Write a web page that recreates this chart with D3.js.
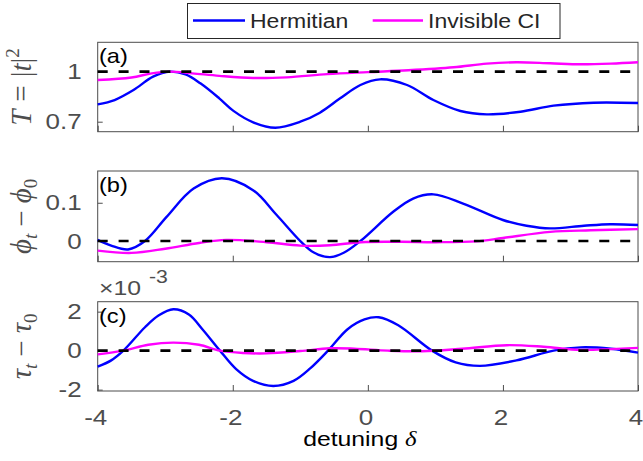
<!DOCTYPE html>
<html>
<head>
<meta charset="utf-8">
<script src="https://cdn.jsdelivr.net/npm/d3@7"></script>
<style>
  body { margin: 0; background: #fff; }
  svg { display: block; }
</style>
</head>
<body>
<div id="chart"></div>
<script>
// values, as [detuning, value]
const xTicks = [-4, -2, 0, 2, 4];

const hermT = [[-4,0.804],[-3.75,0.83],[-3.47,0.89],[-3.18,0.97],[-2.93,1.0],[-2.7,0.983],[-2.48,0.93],
  [-2.2,0.84],[-1.99,0.765],[-1.69,0.695],[-1.37,0.664],[-1.0,0.70],[-0.71,0.754],[-0.41,0.84],[-0.11,0.92],
  [0.18,0.954],[0.58,0.92],[0.97,0.83],[1.37,0.764],[1.76,0.744],[2.26,0.76],[2.75,0.796],[3.34,0.814],[4,0.812]];
const invT = [[-4,0.95],[-3.5,0.965],[-3.2,0.99],[-2.93,1.0],[-2.6,0.99],[-2.2,0.975],[-1.7,0.962],[-1.2,0.966],
  [-0.6,0.985],[0,0.997],[0.6,1.008],[1.27,1.026],[1.76,1.048],[2.2,1.056],[2.7,1.05],[3.15,1.044],[3.6,1.048],[4,1.056]];

const hermPhi = [[-4,0.003],[-3.8,-0.012],[-3.55,-0.022],[-3.3,0],[-2.98,0.063],[-2.58,0.137],[-2.16,0.164],
  [-1.7,0.133],[-1.35,0.068],[-1.0,0],[-0.8,-0.03],[-0.56,-0.042],[-0.35,-0.03],[-0.11,0],[0.38,0.077],
  [0.67,0.111],[0.97,0.122],[1.41,0.098],[2.0,0.055],[2.35,0.04],[2.7,0.033],[3.2,0.04],[3.59,0.044],[4,0.042]];
const invPhi = [[-4,-0.025],[-3.5,-0.031],[-3.0,-0.02],[-2.5,-0.005],[-2.1,0.003],[-1.5,-0.003],[-1.0,-0.012],
  [-0.56,-0.011],[-0.1,-0.003],[0.5,-0.002],[1.0,-0.003],[1.6,-0.001],[2.0,0.008],[2.7,0.024],[3.3,0.028],[4,0.031]];

// tau values in units of 1e-3
const hermTau = [[-4,-0.82],[-3.8,-0.5],[-3.62,0],[-3.3,1.2],[-3.1,1.8],[-2.88,2.12],[-2.65,1.85],[-2.45,1.1],
  [-2.19,0],[-1.95,-0.95],[-1.7,-1.55],[-1.4,-1.81],[-1.1,-1.55],[-0.85,-0.9],[-0.59,0],[-0.3,1.1],[-0.05,1.6],
  [0.16,1.71],[0.45,1.3],[0.95,0],[1.3,-0.6],[1.66,-0.78],[2.2,-0.5],[2.75,0],[3.15,0.17],[3.6,0.1],[4,-0.1]];
const invTau = [[-4,-0.19],[-3.62,0],[-3.25,0.3],[-2.88,0.41],[-2.5,0.3],[-2.19,0],[-1.85,-0.12],[-1.5,-0.14],
  [-1.0,-0.02],[-0.56,0.12],[-0.2,0.1],[0.3,0],[0.8,-0.03],[1.4,0.1],[2.06,0.28],[2.6,0.2],[3.15,0.04],[3.6,0.08],[4,0.14]];

const legendNames = ["Hermitian", "Invisible CI"];
const colors = ["#0000ff", "#ff00ff"];

const width = 643, height = 461;
const S = 1.18; // text looks horizontally stretched in the original
const sans = "'Liberation Sans', Arial, sans-serif";
const serif = "'Liberation Serif', 'DejaVu Serif', 'Times New Roman', serif";
const grey = "#4d4d4d";

const svg = d3.select("#chart").append("svg")
  .attr("width", width).attr("height", height)
  .attr("font-family", sans);

const x = d3.scaleLinear().domain([-4, 4]).range([97.7, 638]);

const panels = [
  { tag: "(a)", top: 42.3, bottom: 131.7, domain: [0.64, 1.176], ticks: [0.7, 1], ref: 1, series: [hermT, invT] },
  { tag: "(b)", top: 171, bottom: 261.7, domain: [-0.054, 0.183], ticks: [0, 0.1], ref: 0, series: [hermPhi, invPhi] },
  { tag: "(c)", top: 301.7, bottom: 391, domain: [-2.07, 2.51], ticks: [-2, 0, 2], ref: 0, series: [hermTau, invTau] }
];

function stretch(sel, shift) {
  sel.each(function() {
    const t = d3.select(this);
    const tx = (+t.attr("x") || 0) + (shift || 0), ty = +t.attr("y") || 0;
    t.attr("x", 0).attr("y", 0).attr("transform", `translate(${tx},${ty}) scale(${S},1)`);
  });
}

function addText(g, tx, ty, str, size, fill) {
  return g.append("text")
    .attr("transform", `translate(${tx},${ty}) scale(${S},1)`)
    .attr("font-size", size).attr("fill", fill || "#000")
    .text(str);
}

panels.forEach((p, i) => {
  const y = d3.scaleLinear().domain(p.domain).range([p.bottom, p.top]);
  const g = svg.append("g");

  // axes
  const yAx = g.append("g").attr("transform", `translate(${x.range()[0]},0)`)
    .call(d3.axisLeft(y).tickValues(p.ticks).tickSize(-5).tickPadding(16).tickFormat(d => String(d)));
  const xAx = g.append("g").attr("transform", `translate(0,${p.bottom})`)
    .call(d3.axisBottom(x).tickValues(xTicks).tickSize(-6).tickPadding(18).tickFormat(d => String(d)));
  [yAx, xAx].forEach(a => {
    a.select(".domain").remove();
    a.selectAll(".tick line").attr("stroke", grey);
    a.selectAll(".tick text").attr("fill", grey).attr("font-size", 22).attr("font-family", sans);
  });
  stretch(yAx.selectAll(".tick text"), 0);
  stretch(xAx.selectAll(".tick text"), -2.5);
  if (i < 2) xAx.selectAll(".tick text").remove();

  g.append("rect")
    .attr("x", x.range()[0]).attr("y", p.top)
    .attr("width", x.range()[1] - x.range()[0]).attr("height", p.bottom - p.top)
    .attr("fill", "none").attr("stroke", grey).attr("stroke-width", 1);

  const line = d3.line().x(d => x(d[0])).y(d => y(d[1])).curve(d3.curveCatmullRom.alpha(0.5));
  p.series.forEach((s, k) => {
    g.append("path").datum(s).attr("d", line)
      .attr("fill", "none").attr("stroke", colors[k]).attr("stroke-width", 2.4);
  });

  g.append("line")
    .attr("x1", x(-4)).attr("x2", x(4)).attr("y1", y(p.ref)).attr("y2", y(p.ref))
    .attr("stroke", "#000").attr("stroke-width", 2.6).attr("stroke-dasharray", "10,10.9");

  addText(g, 99, p.top + 21, p.tag, 20);
});

// y labels
function yLabel(cy, build) {
  const t = svg.append("text")
    .attr("transform", `translate(31,${cy}) rotate(-90)`)
    .attr("text-anchor", "middle").attr("font-family", serif)
    .attr("font-size", 29).attr("fill", grey);
  build(t);
}
yLabel((panels[0].top + panels[0].bottom) / 2, t => {
  t.append("tspan").attr("font-style", "italic").text("T");
  t.append("tspan").attr("dx", 8).text("=");
  t.append("tspan").attr("dx", 8).text("|");
  t.append("tspan").attr("font-style", "italic").text("t");
  t.append("tspan").text("|");
  t.append("tspan").attr("font-size", 19).attr("dy", -12).text("2");
});
yLabel((panels[1].top + panels[1].bottom) / 2, t => {
  t.append("tspan").attr("font-style", "italic").text("ϕ");
  t.append("tspan").attr("font-style", "italic").attr("font-size", 19).attr("dy", 6).text("t");
  t.append("tspan").attr("dy", -6).attr("dx", 7).text("−");
  t.append("tspan").attr("dx", 7).attr("font-style", "italic").text("ϕ");
  t.append("tspan").attr("font-size", 19).attr("dy", 6).text("0");
});
yLabel((panels[2].top + panels[2].bottom) / 2, t => {
  t.append("tspan").attr("font-style", "italic").text("τ");
  t.append("tspan").attr("font-style", "italic").attr("font-size", 19).attr("dy", 6).text("t");
  t.append("tspan").attr("dy", -6).attr("dx", 7).text("−");
  t.append("tspan").attr("dx", 7).attr("font-style", "italic").text("τ");
  t.append("tspan").attr("font-size", 19).attr("dy", 6).text("0");
});

// exponent for panel (c)
addText(svg, 99, 295, "×10", 21, grey);
addText(svg, 149, 283, "-3", 18, grey);

// x label
const xl = svg.append("text")
  .attr("transform", `translate(${(x.range()[0] + x.range()[1]) / 2 - 8},446) scale(${S},1)`)
  .attr("text-anchor", "middle").attr("font-size", 21).attr("fill", "#000");
xl.append("tspan").text("detuning ");
xl.append("tspan").attr("font-family", serif).attr("font-style", "italic").text("δ");

// legend
const lg = svg.append("g");
lg.append("rect").attr("x", 187.5).attr("y", 3.5).attr("width", 372.5).attr("height", 35)
  .attr("fill", "#fff").attr("stroke", "#262626").attr("stroke-width", 1);
const legX = [[193, 245, 250], [372.7, 423, 428]];
legendNames.forEach((name, k) => {
  lg.append("line").attr("x1", legX[k][0]).attr("x2", legX[k][1]).attr("y1", 20.5).attr("y2", 20.5)
    .attr("stroke", colors[k]).attr("stroke-width", 2.4);
  addText(lg, legX[k][2], 27.5, name, 19.5, "#262626");
});
</script>
</body>
</html>
